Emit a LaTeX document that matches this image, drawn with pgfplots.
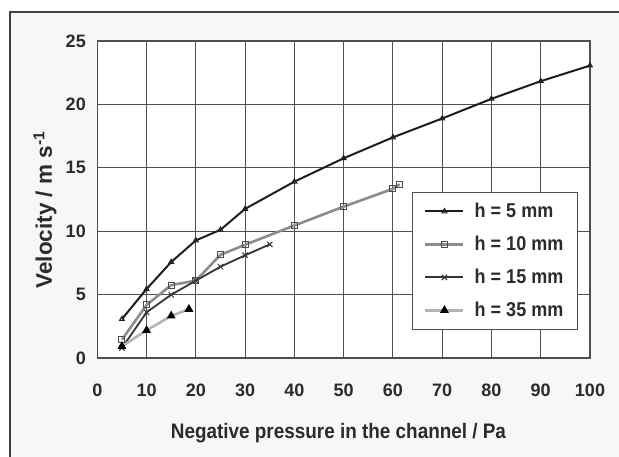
\documentclass[border=0pt]{standalone}
\usepackage{fontspec}
\setmainfont{Liberation Sans}
\newfontfamily\condfont[FakeStretch=0.9]{Liberation Sans}
\usepackage{pgfplots}
\pgfplotsset{compat=1.18}
\definecolor{txt}{HTML}{2B2B2B}
\definecolor{gridc}{HTML}{505050}
\definecolor{sfive}{HTML}{1E1E1E}
\definecolor{sten}{HTML}{8C8C8C}
\definecolor{sfifteen}{HTML}{353535}
\definecolor{sthirtyfive}{HTML}{B4B4B4}
\begin{document}
\begin{tikzpicture}[x=1pt,y=1pt]
\useasboundingbox (0,0) rectangle (619,457);
\fill[black!3] (10,0) rectangle (619,445);
\draw[black!75, line width=1.2pt] (10,0) -- (10,445) -- (619,445);
\begin{axis}[
  at={(97.3pt,99pt)}, anchor=south west,
  scale only axis, width=492.7pt, height=317pt,
  xmin=0, xmax=100, ymin=0, ymax=25,
  xtick={0,10,...,100}, ytick={0,5,...,25},
  grid=major,
  major grid style={gridc, line width=1pt},
  axis line style={gridc, line width=1.2pt},
  major tick length=0pt,
  axis background/.style={fill=white},
  /pgf/number format/assume math mode=true,
  tick label style={font=\fontsize{18}{20}\selectfont\bfseries, text=txt},
  xticklabel style={yshift=-22pt},
  yticklabel style={xshift=-8pt},
  xlabel={Negative pressure in the channel / Pa},
  ylabel={Velocity / m s\textsuperscript{-1}},
  xlabel style={font=\condfont\fontsize{21}{23}\selectfont\bfseries, text=txt,
    at={(axis description cs:0.4895,-0.2366)}, anchor=center},
  ylabel style={font=\fontsize{22.5}{25}\selectfont\bfseries, text=txt,
    at={(axis description cs:-0.106,0.467)}, anchor=center, rotate=0},
  legend style={at={(0.638,0.524)}, anchor=north west, draw=gridc, line width=1pt,
    fill=white, font=\condfont\fontsize{20}{22}\selectfont\bfseries, text=txt,
    inner xsep=12pt, inner ysep=9pt, row sep=13pt, column sep=8pt,
    nodes={inner sep=2pt}},
  legend cell align=left,
  legend image code/.code={\draw[mark repeat=2,mark phase=2] plot coordinates {(0pt,0pt) (19pt,0pt) (38pt,0pt)};},
]
\addplot[sfive, line width=2pt, mark=triangle, mark size=2.8pt, mark options={fill=white, line width=1pt, solid}]
  coordinates {(5,3.07) (10,5.44) (15,7.57) (20,9.27) (25,10.11) (30,11.76) (40,13.91) (50,15.75) (60,17.4) (70,18.89) (80,20.44) (90,21.83) (100,23.06)};
\addlegendentry{h = 5 mm}
\addplot[sten, line width=2.6pt, mark=square, mark size=3pt, mark options={fill=white, draw=black!70, line width=1pt, solid}]
  coordinates {(5,1.45) (10,4.18) (15,5.75) (20,6.1) (25,8.14) (30,8.93) (40,10.45) (50,11.94) (60,13.34) (61.4,13.7)};
\addlegendentry{h = 10 mm}
\addplot[sfifteen, line width=1.8pt, mark=x, mark size=3.8pt, mark options={line width=1pt, solid}]
  coordinates {(5,0.79) (10,3.6) (15,4.99) (20,6.1) (25,7.2) (30,8.1) (35,8.96)};
\addlegendentry{h = 15 mm}
\addplot[sthirtyfive, line width=2.6pt, mark=triangle*, mark size=2.6pt, mark options={fill=black, draw=black, solid}]
  coordinates {(5,0.92) (10,2.18) (15,3.32) (18.6,3.85)};
\addlegendentry{h = 35 mm}
\end{axis}
\end{tikzpicture}
\end{document}
